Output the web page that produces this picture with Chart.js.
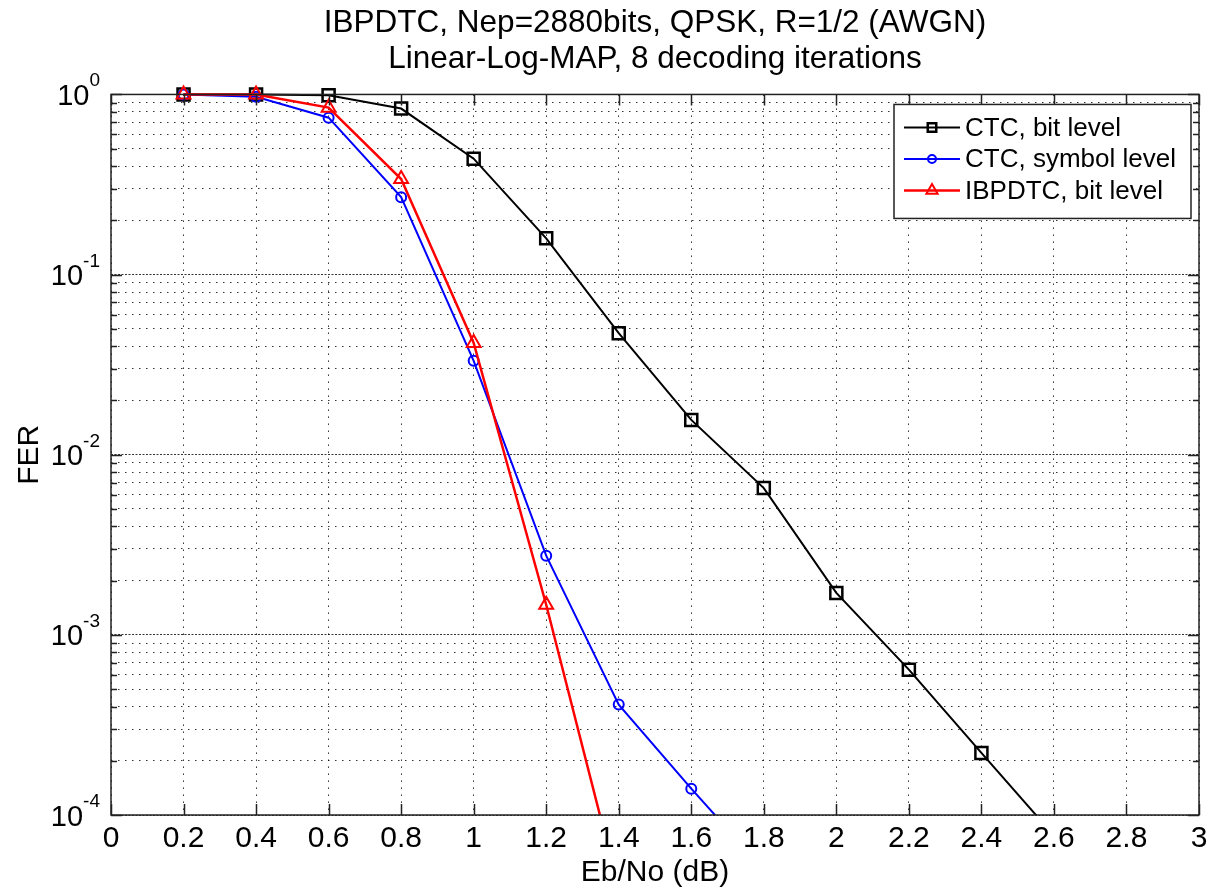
<!DOCTYPE html>
<html>
<head>
<meta charset="utf-8">
<title>FER vs Eb/No</title>
<script src="https://cdn.jsdelivr.net/npm/chart.js@4.4.1/dist/chart.umd.min.js"></script>
<style>
  html, body { margin: 0; padding: 0; background: #fff; }
  #wrap { width: 1217px; height: 893px; }
</style>
</head>
<body>
<div id="wrap"><canvas id="ferChart" width="1217" height="893"></canvas></div>
<script>
// values
const ebnoBit = [0.2, 0.4, 0.6, 0.8, 1.0, 1.2, 1.4, 1.6, 1.8, 2.0, 2.2, 2.4, 2.6];
const ferCtcBit = [1.0, 1.0, 0.99, 0.835, 0.44, 0.159, 0.0473, 0.0156, 0.00653, 0.00171, 0.000641, 0.000221, 0.000077];

const ebnoSym = [0.2, 0.4, 0.6, 0.8, 1.0, 1.2, 1.4, 1.6, 1.8];
const ferCtcSym = [1.0, 0.97, 0.743, 0.269, 0.0332, 0.00275, 0.00041, 0.00014, 0.00005];

const ebnoIbp = [0.2, 0.4, 0.6, 0.8, 1.0, 1.2, 1.4];
const ferIbpdtc = [1.0, 1.0, 0.845, 0.339, 0.0417, 0.00147, 0.000039];

const xTickValues = [0, 0.2, 0.4, 0.6, 0.8, 1, 1.2, 1.4, 1.6, 1.8, 2, 2.2, 2.4, 2.6, 2.8, 3];
const yDecades = [-4, -3, -2, -1, 0];

const titleLines = ['IBPDTC, Nep=2880bits, QPSK, R=1/2 (AWGN)', 'Linear-Log-MAP, 8 decoding iterations'];
const seriesNames = ['CTC, bit level', 'CTC, symbol level', 'IBPDTC, bit level'];

const FONT = "'Liberation Sans', Arial, Helvetica, sans-serif";

// grid values: 1..9 x each decade, up to 10^0
var yGridValues = [];
for (var d = 0; d < yDecades.length; d++) {
    var base = Math.pow(10, yDecades[d]);
    if (yDecades[d] === 0) { yGridValues.push(1); break; }
    for (var m = 1; m < 10; m++) yGridValues.push(m * base);
}

function isDecade(v) {
    var l = Math.log10(v);
    return Math.abs(l - Math.round(l)) < 1e-9;
}

function toPoints(xs, ys) {
    var pts = [];
    for (var i = 0; i < xs.length; i++) pts.push({ x: xs[i], y: ys[i] });
    return pts;
}

function drawMarker(ctx, style, x, y, r) {
    ctx.beginPath();
    if (style === 'rect') {
        var s = Math.SQRT1_2 * r;
        ctx.rect(x - s, y - s, 2 * s, 2 * s);
    } else if (style === 'triangle') {
        var a = 0;
        ctx.moveTo(x + Math.sin(a) * r, y - Math.cos(a) * r);
        a += 2 * Math.PI / 3;
        ctx.lineTo(x + Math.sin(a) * r, y - Math.cos(a) * r);
        a += 2 * Math.PI / 3;
        ctx.lineTo(x + Math.sin(a) * r, y - Math.cos(a) * r);
        ctx.closePath();
    } else {
        ctx.arc(x, y, r, 0, Math.PI * 2);
    }
    ctx.stroke();
}

// box, inward ticks, 10^n labels and the legend, matlab style
const matlabAxes = {
    id: 'matlabAxes',
    afterDraw: function (chart) {
        const ctx = chart.ctx;
        const a = chart.chartArea;
        const xs = chart.scales.x;
        const ys = chart.scales.y;

        ctx.save();
        ctx.strokeStyle = '#222';
        ctx.lineWidth = 1.5;
        ctx.setLineDash([]);

        // inward ticks
        ctx.beginPath();
        xTickValues.forEach(function (v) {
            const px = Math.round(xs.getPixelForValue(v)) + 0.5;
            ctx.moveTo(px, a.bottom); ctx.lineTo(px, a.bottom - 11);
            ctx.moveTo(px, a.top); ctx.lineTo(px, a.top + 11);
        });
        yGridValues.forEach(function (v) {
            const py = Math.round(ys.getPixelForValue(v)) + 0.5;
            const len = isDecade(v) ? 11 : 6;
            ctx.moveTo(a.left, py); ctx.lineTo(a.left + len, py);
            ctx.moveTo(a.right, py); ctx.lineTo(a.right - len, py);
        });
        ctx.stroke();

        ctx.strokeRect(a.left, a.top, a.right - a.left, a.bottom - a.top);

        // y labels 10^n
        ctx.fillStyle = '#000';
        ctx.textBaseline = 'alphabetic';
        ctx.textAlign = 'left';
        yDecades.forEach(function (e) {
            const py = ys.getPixelForValue(Math.pow(10, e));
            ctx.font = '19px ' + FONT;
            const expText = String(e);
            const ew = ctx.measureText(expText).width;
            ctx.font = '29px ' + FONT;
            const bw = ctx.measureText('10').width;
            const right = a.left - 11;
            ctx.fillText('10', right - ew - bw, py + 10.5);
            ctx.font = '19px ' + FONT;
            ctx.fillText(expText, right - ew, py - 8);
        });

        // legend
        const bx = a.right - 305, by = a.top + 10, bw2 = 297, bh = 114;
        ctx.fillStyle = '#fff';
        ctx.fillRect(bx, by, bw2, bh);
        ctx.strokeStyle = '#222';
        ctx.lineWidth = 1.5;
        ctx.strokeRect(bx, by, bw2, bh);
        ctx.font = '26px ' + FONT;
        ctx.textBaseline = 'middle';
        chart.data.datasets.forEach(function (ds, i) {
            const ry = by + 23 + i * 31.5;
            ctx.strokeStyle = ds.borderColor;
            ctx.lineWidth = ds.borderWidth;
            ctx.beginPath();
            ctx.moveTo(bx + 10, ry);
            ctx.lineTo(bx + 66, ry);
            ctx.stroke();
            ctx.lineWidth = ds.pointBorderWidth;
            drawMarker(ctx, ds.pointStyle, bx + 38, ry, ds.legendRadius);
            ctx.fillStyle = '#000';
            ctx.fillText(ds.label, bx + 71, ry + 1);
        });
        ctx.restore();
    }
};

const ctx = document.getElementById('ferChart').getContext('2d');
const ferChart = new Chart(ctx, {
    type: 'line',
    data: {
        datasets: [{
            label: seriesNames[0],
            data: toPoints(ebnoBit, ferCtcBit),
            borderColor: '#000000',
            backgroundColor: 'rgba(0,0,0,0)',
            borderWidth: 2,
            pointStyle: 'rect',
            pointRadius: 8.5,
            legendRadius: 6,
            pointBorderWidth: 2.5,
            order: 3
        }, {
            label: seriesNames[1],
            data: toPoints(ebnoSym, ferCtcSym),
            borderColor: '#0000ff',
            backgroundColor: 'rgba(0,0,0,0)',
            borderWidth: 2,
            pointStyle: 'circle',
            pointRadius: 5,
            legendRadius: 4,
            pointBorderWidth: 2,
            order: 2
        }, {
            label: seriesNames[2],
            data: toPoints(ebnoIbp, ferIbpdtc),
            borderColor: '#ff0000',
            backgroundColor: 'rgba(0,0,0,0)',
            borderWidth: 2.5,
            pointStyle: 'triangle',
            pointRadius: 8,
            legendRadius: 6.5,
            pointBorderWidth: 2,
            order: 1
        }]
    },
    options: {
        responsive: false,
        animation: false,
        layout: { padding: { left: 0, right: 18, top: 0, bottom: 0 } },
        elements: { line: { tension: 0 } },
        datasets: { line: { clip: { left: 14, top: 14, right: 14, bottom: 0 } } },
        plugins: {
            legend: { display: false },
            tooltip: { enabled: false },
            title: {
                display: true,
                fullSize: false,
                text: titleLines,
                color: '#000',
                font: { family: FONT, size: 31.5, weight: 'normal', lineHeight: 1.15 },
                padding: { top: 5, bottom: 17 }
            }
        },
        scales: {
            x: {
                type: 'linear',
                min: 0,
                max: 3,
                afterBuildTicks: function (s) {
                    s.ticks = xTickValues.map(function (v) { return { value: v }; });
                },
                afterFit: function (s) { s.height = 78; },
                ticks: {
                    autoSkip: false,
                    maxRotation: 0,
                    padding: 6,
                    color: '#000',
                    font: { family: FONT, size: 30 },
                    callback: function (v) { return String(Math.round(v * 10) / 10); }
                },
                grid: { color: 'rgba(0,0,0,0.8)', lineWidth: 1, drawTicks: false },
                border: { display: false, dash: [1.5, 5.5] },
                title: {
                    display: true,
                    text: 'Eb/No (dB)',
                    color: '#000',
                    font: { family: FONT, size: 30, lineHeight: 1.2 },
                    padding: { top: 0, bottom: 2 }
                }
            },
            y: {
                type: 'logarithmic',
                min: 1e-4,
                max: 1,
                afterBuildTicks: function (s) {
                    s.ticks = yGridValues.map(function (v) { return { value: v, major: isDecade(v) }; });
                },
                afterFit: function (s) { s.width = 111; },
                ticks: {
                    autoSkip: false,
                    color: 'rgba(0,0,0,0)',
                    callback: function () { return ''; }
                },
                grid: { color: 'rgba(0,0,0,0.8)', lineWidth: 1, drawTicks: false },
                border: {
                    display: false,
                    dash: function (c) {
                        if (c.tick && isDecade(c.tick.value)) return [2, 1.5];
                        return [1.5, 5.5];
                    }
                },
                title: {
                    display: true,
                    text: 'FER',
                    color: '#000',
                    font: { family: FONT, size: 30, lineHeight: 1.2 },
                    padding: { top: 12, bottom: 0 }
                }
            }
        }
    },
    plugins: [matlabAxes]
});
</script>
</body>
</html>
